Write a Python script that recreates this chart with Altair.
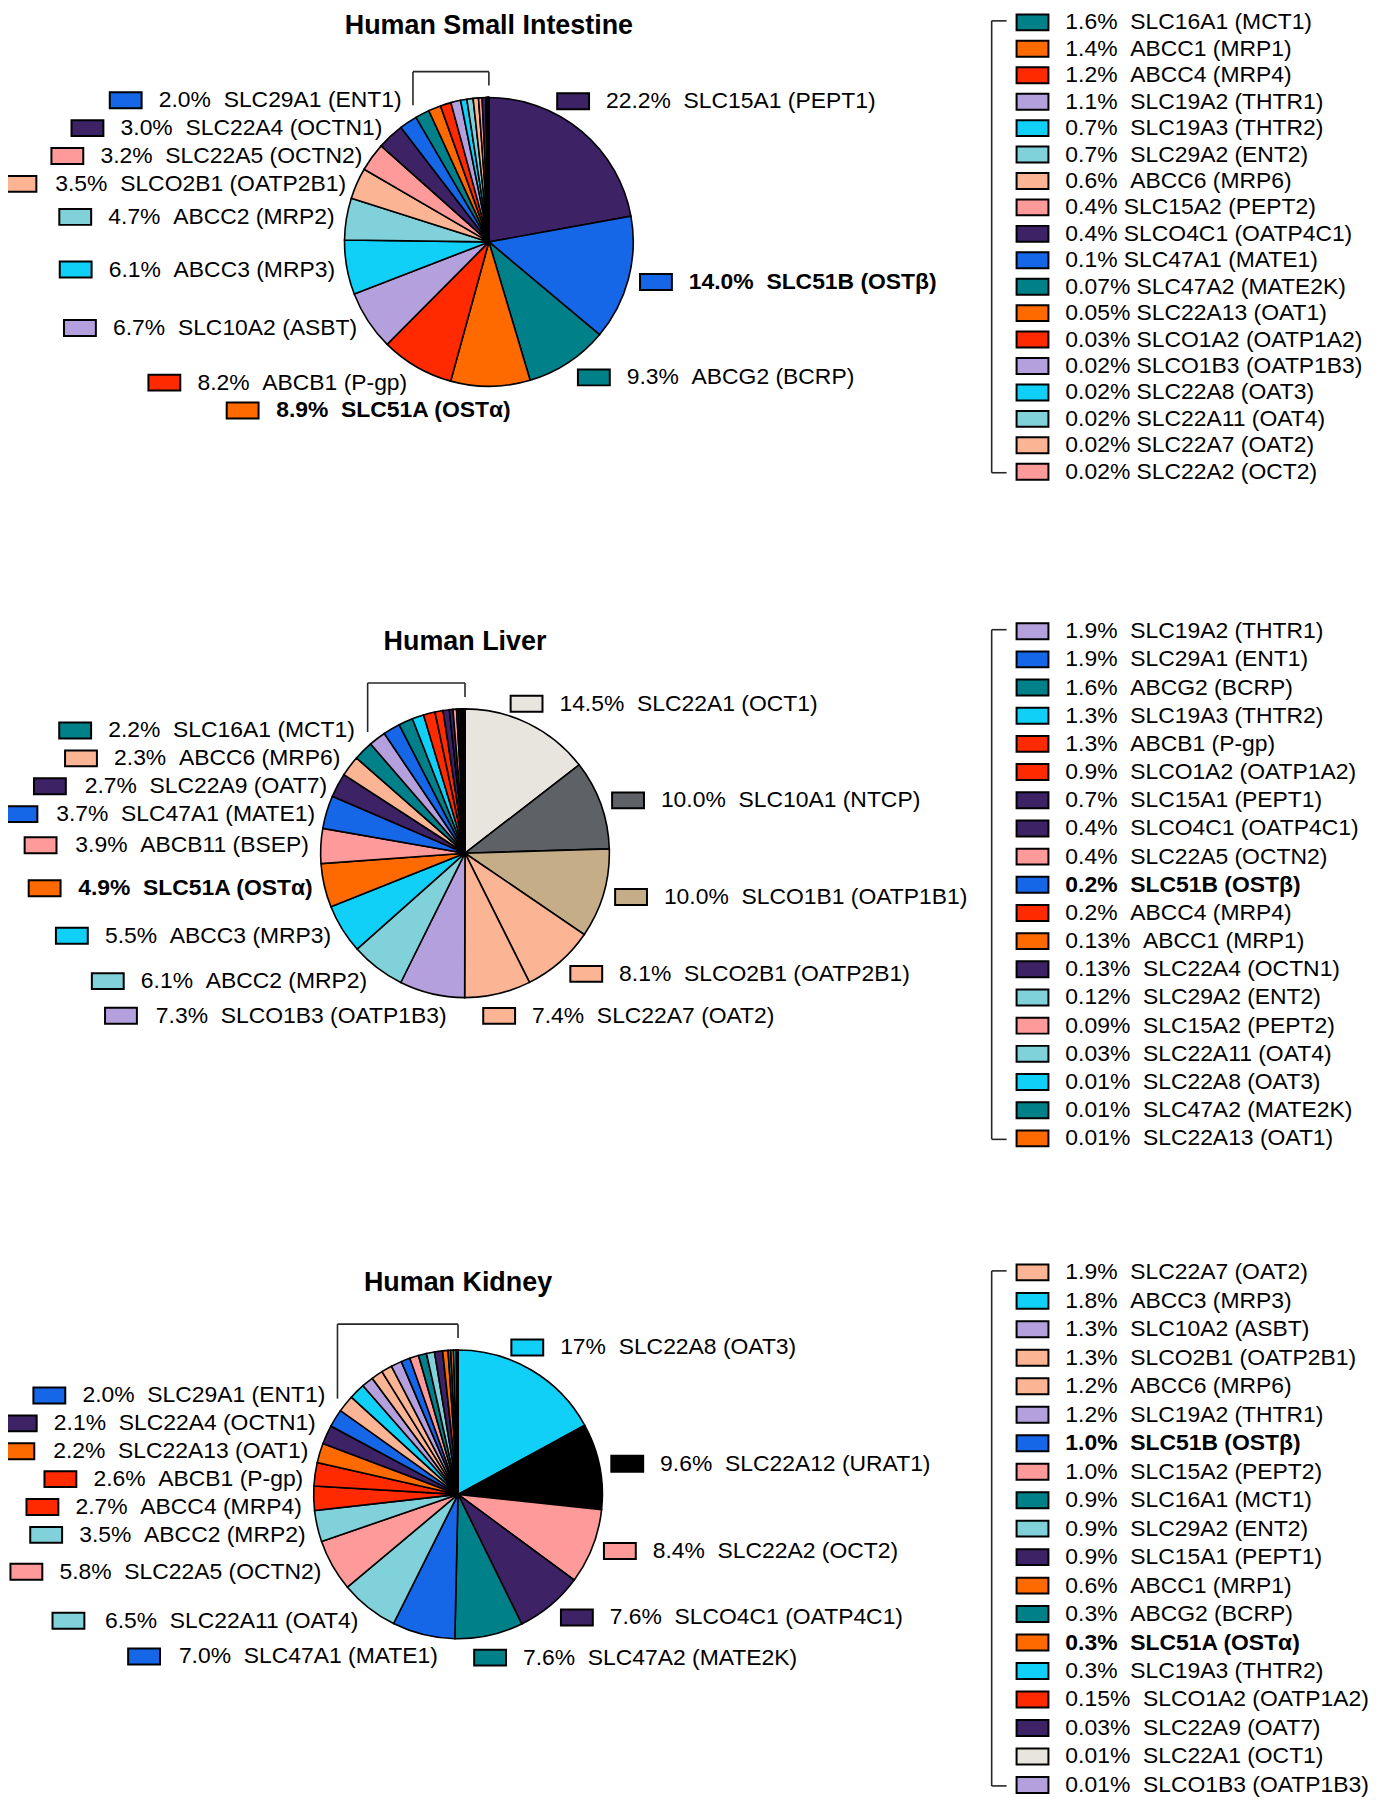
import math
import altair as alt
import pandas as pd

# ------------------------------------------------------------------ data
titles = ["Human Small Intestine", "Human Liver", "Human Kidney"]

# Small intestine: labelled slices, then bracketed (listed) slices
si_main_names = ["SLC15A1 (PEPT1)", "SLC51B (OSTβ)", "ABCG2 (BCRP)", "SLC51A (OSTα)",
                 "ABCB1 (P-gp)", "SLC10A2 (ASBT)", "ABCC3 (MRP3)", "ABCC2 (MRP2)",
                 "SLCO2B1 (OATP2B1)", "SLC22A5 (OCTN2)", "SLC22A4 (OCTN1)", "SLC29A1 (ENT1)"]
si_main_pct = ["22.2", "14.0", "9.3", "8.9", "8.2", "6.7", "6.1", "4.7", "3.5", "3.2", "3.0", "2.0"]
si_minor_names = ["SLC16A1 (MCT1)", "ABCC1 (MRP1)", "ABCC4 (MRP4)", "SLC19A2 (THTR1)",
                  "SLC19A3 (THTR2)", "SLC29A2 (ENT2)", "ABCC6 (MRP6)", "SLC15A2 (PEPT2)",
                  "SLCO4C1 (OATP4C1)", "SLC47A1 (MATE1)", "SLC47A2 (MATE2K)", "SLC22A13 (OAT1)",
                  "SLCO1A2 (OATP1A2)", "SLCO1B3 (OATP1B3)", "SLC22A8 (OAT3)", "SLC22A11 (OAT4)",
                  "SLC22A7 (OAT2)", "SLC22A2 (OCT2)"]
si_minor_pct = ["1.6", "1.4", "1.2", "1.1", "0.7", "0.7", "0.6", "0.4", "0.4", "0.1",
                "0.07", "0.05", "0.03", "0.02", "0.02", "0.02", "0.02", "0.02"]

# Liver
li_main_names = ["SLC22A1 (OCT1)", "SLC10A1 (NTCP)", "SLCO1B1 (OATP1B1)", "SLCO2B1 (OATP2B1)",
                 "SLC22A7 (OAT2)", "SLCO1B3 (OATP1B3)", "ABCC2 (MRP2)", "ABCC3 (MRP3)",
                 "SLC51A (OSTα)", "ABCB11 (BSEP)", "SLC47A1 (MATE1)", "SLC22A9 (OAT7)",
                 "ABCC6 (MRP6)", "SLC16A1 (MCT1)"]
li_main_pct = ["14.5", "10.0", "10.0", "8.1", "7.4", "7.3", "6.1", "5.5", "4.9", "3.9", "3.7",
               "2.7", "2.3", "2.2"]
li_minor_names = ["SLC19A2 (THTR1)", "SLC29A1 (ENT1)", "ABCG2 (BCRP)", "SLC19A3 (THTR2)",
                  "ABCB1 (P-gp)", "SLCO1A2 (OATP1A2)", "SLC15A1 (PEPT1)", "SLCO4C1 (OATP4C1)",
                  "SLC22A5 (OCTN2)", "SLC51B (OSTβ)", "ABCC4 (MRP4)", "ABCC1 (MRP1)",
                  "SLC22A4 (OCTN1)", "SLC29A2 (ENT2)", "SLC15A2 (PEPT2)", "SLC22A11 (OAT4)",
                  "SLC22A8 (OAT3)", "SLC47A2 (MATE2K)", "SLC22A13 (OAT1)"]
li_minor_pct = ["1.9", "1.9", "1.6", "1.3", "1.3", "0.9", "0.7", "0.4", "0.4", "0.2", "0.2",
                "0.13", "0.13", "0.12", "0.09", "0.03", "0.01", "0.01", "0.01"]

# Kidney
ki_main_names = ["SLC22A8 (OAT3)", "SLC22A12 (URAT1)", "SLC22A2 (OCT2)", "SLCO4C1 (OATP4C1)",
                 "SLC47A2 (MATE2K)", "SLC47A1 (MATE1)", "SLC22A11 (OAT4)", "SLC22A5 (OCTN2)",
                 "ABCC2 (MRP2)", "ABCC4 (MRP4)", "ABCB1 (P-gp)", "SLC22A13 (OAT1)",
                 "SLC22A4 (OCTN1)", "SLC29A1 (ENT1)"]
ki_main_pct = ["17", "9.6", "8.4", "7.6", "7.6", "7.0", "6.5", "5.8", "3.5", "2.7", "2.6",
               "2.2", "2.1", "2.0"]
ki_minor_names = ["SLC22A7 (OAT2)", "ABCC3 (MRP3)", "SLC10A2 (ASBT)", "SLCO2B1 (OATP2B1)",
                  "ABCC6 (MRP6)", "SLC19A2 (THTR1)", "SLC51B (OSTβ)", "SLC15A2 (PEPT2)",
                  "SLC16A1 (MCT1)", "SLC29A2 (ENT2)", "SLC15A1 (PEPT1)", "ABCC1 (MRP1)",
                  "ABCG2 (BCRP)", "SLC51A (OSTα)", "SLC19A3 (THTR2)", "SLCO1A2 (OATP1A2)",
                  "SLC22A9 (OAT7)", "SLC22A1 (OCT1)", "SLCO1B3 (OATP1B3)"]
ki_minor_pct = ["1.9", "1.8", "1.3", "1.3", "1.2", "1.2", "1.0", "1.0", "0.9", "0.9", "0.9",
                "0.6", "0.3", "0.3", "0.3", "0.15", "0.03", "0.01", "0.01"]

# ------------------------------------------------------------------ styles
PURPLE, BLUE, TEAL, ORANGE, RED = "#3d2266", "#1666e8", "#00818a", "#ff6a00", "#ff2a00"
LAV, CYAN, LTEAL, PEACH, PINK = "#b4a0dc", "#10d0f8", "#80d1d9", "#fbb594", "#ff9a9a"
colour_of = {
    "PEPT1": PURPLE, "OCTN1": PURPLE, "OATP4C1": PURPLE, "OAT7": PURPLE,
    "OSTβ": BLUE, "ENT1": BLUE, "MATE1": BLUE,
    "BCRP": TEAL, "MCT1": TEAL, "MATE2K": TEAL,
    "OSTα": ORANGE, "MRP1": ORANGE, "OAT1": ORANGE,
    "P-gp": RED, "MRP4": RED, "OATP1A2": RED,
    "ASBT": LAV, "THTR1": LAV, "OATP1B3": LAV,
    "MRP3": CYAN, "THTR2": CYAN, "OAT3": CYAN,
    "MRP2": LTEAL, "ENT2": LTEAL, "OAT4": LTEAL,
    "OATP2B1": PEACH, "MRP6": PEACH, "OAT2": PEACH,
    "OCTN2": PINK, "PEPT2": PINK, "OCT2": PINK, "BSEP": PINK,
    "OCT1": "#e8e4de", "NTCP": "#5e6267", "OATP1B1": "#c4ad87", "URAT1": "#000000",
}
FONT = "Liberation Sans"
FS = 23
NB = "\u00a0"

# number of spaces between percentage and name in the listed items
si_minor_gap = [2] * 7 + [1] * 11
li_minor_gap = [2] * 19
ki_minor_gap = [2] * 19

# ------------------------------------------------------------------ layout
OFF = 8          # page margin
R = 145          # pie radius
panels = [
    dict(cx=491, cy=239, leg_top=18.5, leg_step=26.55, title_gap=64),
    dict(cx=467, cy=853, leg_top=630, leg_step=28.3, title_gap=59),
    dict(cx=460, cy=1497, leg_top=1274, leg_step=28.6, title_gap=59),
]
LEG_SQ_X = 1021
LEG_TXT_X = 1070
LEG_BRACKET_X = 996
SQ_W, SQ_H, SQ_GAP = 32, 16, 17
LABEL_GAP = 28

tissues = [
    (si_main_names, si_main_pct, si_minor_names, si_minor_pct, si_minor_gap),
    (li_main_names, li_main_pct, li_minor_names, li_minor_pct, li_minor_gap),
    (ki_main_names, ki_main_pct, ki_minor_names, ki_minor_pct, ki_minor_gap),
]

# Helvetica / Arial advance widths (1/1000 em)
W_REG = {" ": 278, NB: 278, "%": 889, "(": 333, ")": 333, "-": 333, ".": 278,
         "A": 667, "B": 667, "C": 722, "D": 722, "E": 667, "F": 611, "G": 778, "H": 722,
         "I": 278, "K": 667, "L": 556, "M": 833, "N": 722, "O": 778, "P": 667, "R": 722,
         "S": 667, "T": 611, "U": 722, "g": 556, "p": 556, "α": 580, "β": 570}
for d in "0123456789":
    W_REG[d] = 556
W_BOLD = dict(W_REG)
W_BOLD.update({"A": 722, "B": 722, "L": 611, "α": 600, "β": 600})


def text_width(s, bold):
    table = W_BOLD if bold else W_REG
    return sum(table.get(ch, 600) for ch in s) * FS / 1000.0


def short(name):
    return name[name.index("(") + 1:-1]


def is_bold(name):
    return name.startswith("SLC51")


def spread(ys, gap):
    """Resolve vertical overlaps by merging clusters centred on their mean."""
    order = sorted(range(len(ys)), key=lambda i: ys[i])
    clusters = []

    def pos(c):
        m = sum(ys[i] for i in c) / len(c)
        n = len(c)
        return [m + (k - (n - 1) / 2.0) * gap for k in range(n)]

    for i in order:
        clusters.append([i])
        while len(clusters) > 1:
            a, b = clusters[-2], clusters[-1]
            if pos(b)[0] - pos(a)[-1] < gap:
                clusters[-2:] = [a + b]
            else:
                break
    out = list(ys)
    for c in clusters:
        for i, p in zip(c, pos(c)):
            out[i] = p
    return out


arc_layers = []
rects, rules, titles_rows = [], [], []
texts = {("left", False): [], ("left", True): [], ("right", False): [], ("right", True): []}

for k, (mn, mp, sn, sp, sg) in enumerate(tissues):
    P = panels[k]
    cx, cy = P["cx"], P["cy"]
    names = mn + sn
    vals = [float(v) for v in mp + sp]
    total = sum(vals)
    arc_df = pd.DataFrame({
        "idx": list(range(len(names))),
        "name": names,
        "val": vals,
        "col": [colour_of[short(n)] for n in names],
    })
    arc_layers.append(
        alt.Chart(arc_df).mark_arc(radius=R, stroke="black", strokeWidth=1.6).encode(
            theta=alt.Theta("val:Q", stack="normalize"),
            order=alt.Order("idx:Q", sort="ascending"),
            color=alt.Color("col:N", scale=None),
            detail="name:N",
            x=alt.value(cx - OFF),
            y=alt.value(cy - OFF),
        )
    )

    # --- labels of the large slices, placed radially around the pie
    cum = 0.0
    labs = []
    for name, pct, v in zip(mn, mp, vals):
        mid = (cum + v / 2.0) / total * 360.0
        cum += v
        a = mid * 0.65 if mid < 45 else mid
        rad = math.radians(a)
        c = math.cos(rad)
        r = R + 12 + 12 * max(0.0, -c) ** 4
        x = cx + r * math.sin(rad)
        y = cy - r * c
        side = "right" if a < 175 else "left"
        if abs(math.sin(rad)) < 0.3 and c < 0:
            x += -20 if side == "right" else 20
        labs.append(dict(name=name, pct=pct, x=x, y=y, side=side))
    for side in ("left", "right"):
        grp = [l for l in labs if l["side"] == side]
        new_y = spread([l["y"] for l in grp], LABEL_GAP)
        for l, ny in zip(grp, new_y):
            l["y"] = ny
    for l in labs:
        bold = is_bold(l["name"])
        txt = l["pct"] + "%" + NB * 2 + l["name"]
        if l["side"] == "right":
            sq_x = l["x"]
            texts[("left", bold)].append(dict(x=sq_x + SQ_W + SQ_GAP - OFF, y=l["y"] - OFF, text=txt))
        else:
            w = text_width(txt, bold)
            sq_x = l["x"] - w - SQ_GAP - SQ_W
            texts[("right", bold)].append(dict(x=l["x"] - OFF, y=l["y"] - OFF, text=txt))
        rects.append(dict(x1=sq_x - OFF, x2=sq_x + SQ_W - OFF,
                          y1=l["y"] - SQ_H / 2 - OFF, y2=l["y"] + SQ_H / 2 - OFF,
                          col=colour_of[short(l["name"])]))

    # --- bracket over the small slices
    start = sum(float(v) for v in mp) / total * 2 * math.pi
    px = cx + R * math.sin(start)
    py = cy - R * math.cos(start)
    top = cy - R - 26
    lx = px - 3
    rules.append(dict(x1=lx, y1=top, x2=lx, y2=py - 12))
    rules.append(dict(x1=lx, y1=top, x2=cx, y2=top))
    rules.append(dict(x1=cx, y1=top, x2=cx, y2=cy - R - 12))

    # --- list of the small slices
    ys = [P["leg_top"] + i * P["leg_step"] for i in range(len(sn))]
    for name, pct, g, y in zip(sn, sp, sg, ys):
        bold = is_bold(name)
        texts[("left", bold)].append(dict(x=LEG_TXT_X - OFF, y=y - OFF,
                                          text=pct + "%" + NB * g + name))
        rects.append(dict(x1=LEG_SQ_X - OFF, x2=LEG_SQ_X + SQ_W - OFF,
                          y1=y - SQ_H / 2 - OFF, y2=y + SQ_H / 2 - OFF,
                          col=colour_of[short(name)]))
    rules.append(dict(x1=LEG_BRACKET_X, y1=ys[0] - 1.5, x2=LEG_BRACKET_X, y2=ys[-1] + 1))
    rules.append(dict(x1=LEG_BRACKET_X, y1=ys[0] - 1.5, x2=LEG_BRACKET_X + 15, y2=ys[0] - 1.5))
    rules.append(dict(x1=LEG_BRACKET_X, y1=ys[-1] + 1, x2=LEG_BRACKET_X + 15, y2=ys[-1] + 1))

    titles_rows.append(dict(x=cx - OFF, y=cy - R - P["title_gap"] - OFF, text=titles[k]))

rules_df = pd.DataFrame(rules)
for c in ("x1", "x2", "y1", "y2"):
    rules_df[c] = rules_df[c] - OFF

NOAX = dict(scale=None, axis=None)

rule_layer = alt.Chart(rules_df).mark_rule(color="#262626", strokeWidth=1.6).encode(
    x=alt.X("x1:Q", **NOAX), y=alt.Y("y1:Q", **NOAX), x2="x2:Q", y2="y2:Q")

rect_layer = alt.Chart(pd.DataFrame(rects)).mark_rect(stroke="black", strokeWidth=2).encode(
    x=alt.X("x1:Q", **NOAX), x2="x2:Q", y=alt.Y("y1:Q", **NOAX), y2="y2:Q",
    color=alt.Color("col:N", scale=None))

text_layers = []
for (align, bold), rows in texts.items():
    if not rows:
        continue
    text_layers.append(
        alt.Chart(pd.DataFrame(rows)).mark_text(
            align=align, baseline="middle", font=FONT, fontSize=FS,
            fontWeight="bold" if bold else "normal", color="black").encode(
            x=alt.X("x:Q", **NOAX), y=alt.Y("y:Q", **NOAX), text="text:N"))

title_layer = alt.Chart(pd.DataFrame(titles_rows)).mark_text(
    align="center", baseline="alphabetic", font=FONT, fontSize=27, fontWeight="bold",
    color="black").encode(x=alt.X("x:Q", **NOAX), y=alt.Y("y:Q", **NOAX), text="text:N")

chart = alt.layer(*arc_layers, rule_layer, rect_layer, *text_layers, title_layer).properties(
    width=1372, height=1790, padding=0, autosize="none"
).resolve_scale(theta="independent").configure_view(strokeWidth=0)

chart.save("out.html", embed_options={"renderer": "svg", "actions": False})
